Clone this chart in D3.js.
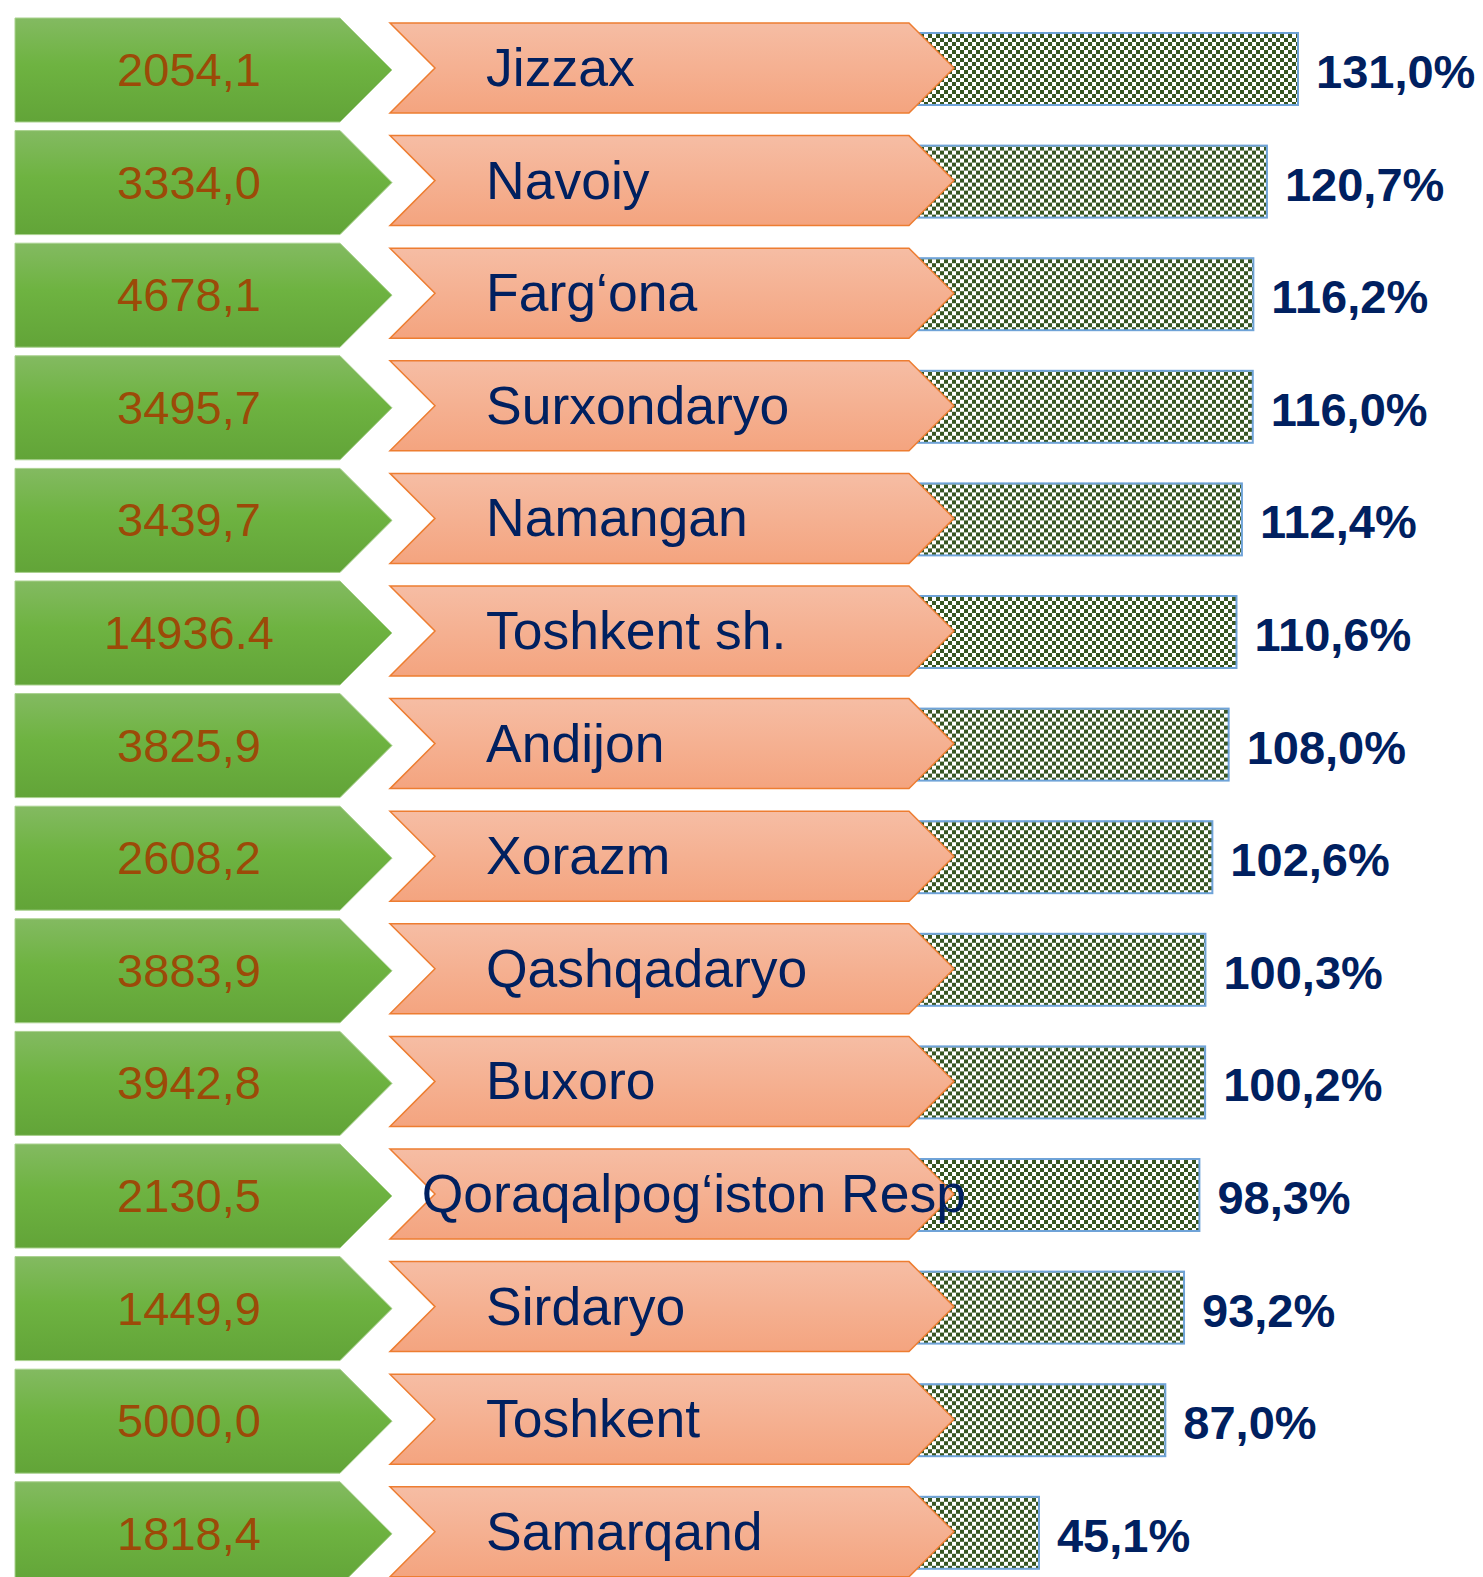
<!DOCTYPE html>
<html>
<head>
<meta charset="utf-8">
<script src="https://cdn.jsdelivr.net/npm/d3@7"></script>
<style>
  html, body { margin: 0; padding: 0; background: #fff; }
  svg { display: block; }
</style>
</head>
<body>
<div id="chart"></div>
<script>
// data, top to bottom
const regions = ["Jizzax", "Navoiy", "Farg‘ona", "Surxondaryo", "Namangan", "Toshkent sh.",
  "Andijon", "Xorazm", "Qashqadaryo", "Buxoro", "Qoraqalpog‘iston Resp", "Sirdaryo",
  "Toshkent", "Samarqand"];
const amountLabels = ["2054,1", "3334,0", "4678,1", "3495,7", "3439,7", "14936.4",
  "3825,9", "2608,2", "3883,9", "3942,8", "2130,5", "1449,9", "5000,0", "1818,4"];
const percents = [131.0, 120.7, 116.2, 116.0, 112.4, 110.6, 108.0, 102.6, 100.3, 100.2,
  98.3, 93.2, 87.0, 45.1];

const width = 1483, height = 1577;

const svg = d3.select("#chart")
  .append("svg")
    .attr("width", width)
    .attr("height", height);

const defs = svg.append("defs");

// gradients
const gGreen = defs.append("linearGradient").attr("id", "gGreen")
  .attr("x1", 0).attr("y1", 0).attr("x2", 0).attr("y2", 1);
gGreen.append("stop").attr("offset", "0%").attr("stop-color", "#83BA61");
gGreen.append("stop").attr("offset", "45%").attr("stop-color", "#6EB341");
gGreen.append("stop").attr("offset", "100%").attr("stop-color", "#62A438");

const gOrange = defs.append("linearGradient").attr("id", "gOrange")
  .attr("x1", 0).attr("y1", 0).attr("x2", 0).attr("y2", 1);
gOrange.append("stop").attr("offset", "0%").attr("stop-color", "#F6BDA4");
gOrange.append("stop").attr("offset", "100%").attr("stop-color", "#F4A47F");

// checkerboard fill of the bars
const cell = 4;
const checker = defs.append("pattern").attr("id", "checker")
  .attr("patternUnits", "userSpaceOnUse")
  .attr("width", cell * 2).attr("height", cell * 2);
checker.append("rect").attr("width", cell * 2).attr("height", cell * 2).attr("fill", "#fff");
checker.append("rect").attr("width", cell).attr("height", cell).attr("fill", "#375623");
checker.append("rect").attr("x", cell).attr("y", cell)
  .attr("width", cell).attr("height", cell).attr("fill", "#375623");

// scales
const yScale = d3.scaleBand()
  .domain(regions)
  .range([18, 18 + 112.6 * regions.length])
  .paddingInner(0);

const xScale = d3.scaleLinear()
  .domain([0, 131])
  .range([903, 1298]);

const rows = regions.map((r, i) => ({
  region: r, amount: amountLabels[i], pct: percents[i]
}));

const greenLeft = 15, greenW = 377, greenH = 104;
const orLeft = 390, orTip = 954, orH = 90, orOff = 5;
const barOff = 15, barH = 72;

const row = svg.selectAll("g.row")
  .data(rows)
  .join("g")
    .attr("class", "row")
    .attr("transform", d => `translate(0, ${yScale(d.region)})`);

// green pentagon arrows
row.append("path")
  .attr("d", () => {
    const h = greenH, r = greenLeft + greenW;
    return `M${greenLeft},0 L${r - h / 2},0 L${r},${h / 2} L${r - h / 2},${h} L${greenLeft},${h} Z`;
  })
  .attr("fill", "url(#gGreen)")
  .attr("stroke", "#A9D18E")
  .attr("stroke-width", 1);

row.append("text")
  .attr("x", greenLeft + 174)
  .attr("y", 68)
  .attr("text-anchor", "middle")
  .style("font-family", "'Liberation Sans', Arial, sans-serif")
  .style("font-size", "47px")
  .attr("fill", "#9C4A08")
  .text(d => d.amount);

// checkered bars (drawn before the chevrons so they tuck behind them)
row.append("rect")
  .attr("x", xScale(0))
  .attr("y", barOff)
  .attr("width", d => xScale(d.pct) - xScale(0))
  .attr("height", barH)
  .attr("fill", "url(#checker)")
  .attr("stroke", "#6FA3D8")
  .attr("stroke-width", 2);

row.append("text")
  .attr("x", d => xScale(d.pct) + 18)
  .attr("y", 70)
  .style("font-family", "'Liberation Sans', Arial, sans-serif")
  .style("font-size", "47px")
  .style("font-weight", "bold")
  .attr("fill", "#002060")
  .text(d => d3.format(".1f")(d.pct).replace(".", ",") + "%");

// orange chevrons
row.append("path")
  .attr("d", () => {
    const t = orOff, h = orH, n = h / 2;
    return `M${orLeft},${t} L${orTip - n},${t} L${orTip},${t + n} L${orTip - n},${t + h} ` +
      `L${orLeft},${t + h} L${orLeft + n},${t + n} Z`;
  })
  .attr("fill", "url(#gOrange)")
  .attr("stroke", "#ED7D31")
  .attr("stroke-width", 1.5);

const names = row.append("text")
  .attr("y", 68)
  .style("font-family", "'Liberation Sans', Arial, sans-serif")
  .style("font-size", "53.5px")
  .attr("fill", "#002060")
  .text(d => d.region);

// long names spill left so they end near the chevron tip
names.attr("x", function() {
  const len = this.getComputedTextLength();
  return Math.min(486, 966 - len);
});
</script>
</body>
</html>
